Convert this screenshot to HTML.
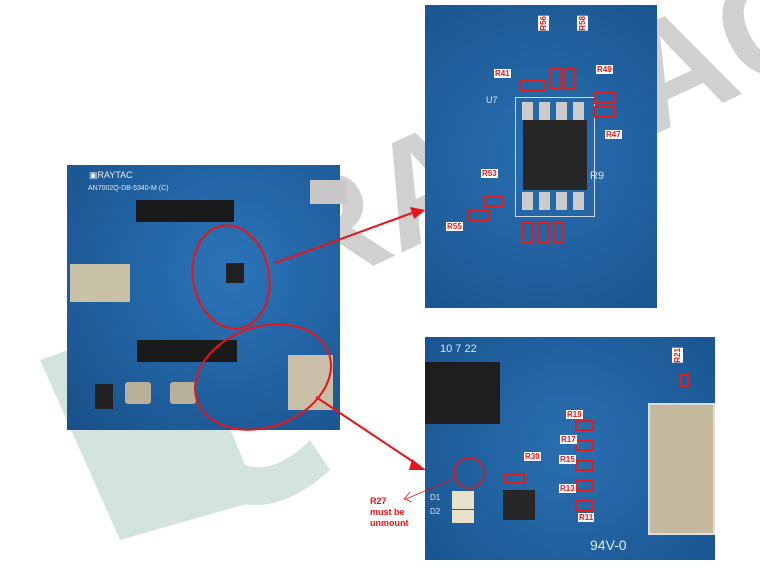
<!DOCTYPE html>
<html><head><style>
body{margin:0;width:760px;height:570px;background:#fff;position:relative;overflow:hidden;font-family:"Liberation Sans",sans-serif}
.a{position:absolute}
.lbl{position:absolute;background:#fff;color:#e21c1c;font-size:8px;font-weight:bold;padding:0 1px;line-height:9px}
.rb{position:absolute;border:2px solid #e21c1c;box-sizing:border-box}
.w{position:absolute;color:#d8e6f0;font-size:9px}
</style></head><body>
<!-- watermark -->
<svg class="a" style="left:0;top:0" width="760" height="570">
<path d="M40 360 L180 310 L260 500 L120 540 Z" fill="#d3e3dd"/>
<path d="M150 420 Q230 560 330 470 L310 440 Q240 510 190 400 Z" fill="#d3e3dd"/>
<g transform="translate(300,300) rotate(-25)"><text x="0" y="0" font-size="150" font-weight="bold" fill="#d0d0d0" font-family="Liberation Sans">RAYTAC</text></g>
</svg>
<!-- left board -->
<div class="a" style="left:67px;top:165px;width:273px;height:265px;background:radial-gradient(circle at 60% 40%,#2b74b8,#18508a)"></div>
<div class="a" style="left:89px;top:170px;color:#e8eef5;font-size:9px">▣RAYTAC</div>
<div class="a" style="left:88px;top:185px;color:#dfe8f2;font-size:7px">AN7002Q-DB-5340-M (C)</div>
<div class="a" style="left:136px;top:200px;width:98px;height:22px;background:#1a1a1a"></div>
<div class="a" style="left:137px;top:340px;width:100px;height:22px;background:#1a1a1a"></div>
<div class="a" style="left:70px;top:264px;width:60px;height:38px;background:#c9c0a8"></div>
<div class="a" style="left:288px;top:355px;width:45px;height:55px;background:#c9bfa8"></div>
<div class="a" style="left:310px;top:180px;width:36px;height:24px;background:#c8c8c8"></div>
<div class="a" style="left:226px;top:263px;width:18px;height:20px;background:#222"></div>
<div class="a" style="left:125px;top:382px;width:26px;height:22px;background:#b9b09a;border-radius:3px"></div>
<div class="a" style="left:170px;top:382px;width:26px;height:22px;background:#b9b09a;border-radius:3px"></div>
<div class="a" style="left:95px;top:384px;width:18px;height:25px;background:#222"></div>
<!-- top right photo -->
<div class="a" style="left:425px;top:5px;width:232px;height:303px;background:radial-gradient(circle at 50% 50%,#2a6fb0,#1a5592)"></div>
<div class="a" style="left:515px;top:97px;width:78px;height:118px;border:1px solid #cfd8e0"></div>
<div class="a" style="left:523px;top:120px;width:64px;height:70px;background:#262626"></div>
<div class="a" style="left:522px;top:102px;width:66px;height:18px;background:repeating-linear-gradient(90deg,#ccc 0 11px,transparent 11px 17px)"></div>
<div class="a" style="left:522px;top:192px;width:66px;height:18px;background:repeating-linear-gradient(90deg,#ccc 0 11px,transparent 11px 17px)"></div>
<div class="rb" style="left:520px;top:79px;width:26px;height:12px"></div>
<div class="rb" style="left:550px;top:68px;width:11px;height:22px"></div>
<div class="rb" style="left:564px;top:68px;width:11px;height:22px"></div>
<div class="rb" style="left:594px;top:92px;width:22px;height:12px"></div>
<div class="rb" style="left:594px;top:106px;width:22px;height:12px"></div>
<div class="rb" style="left:483px;top:196px;width:20px;height:11px"></div>
<div class="rb" style="left:468px;top:209px;width:22px;height:12px"></div>
<div class="rb" style="left:522px;top:222px;width:12px;height:22px"></div>
<div class="rb" style="left:538px;top:222px;width:12px;height:22px"></div>
<div class="rb" style="left:553px;top:222px;width:10px;height:22px"></div>
<div class="lbl" style="left:494px;top:69px">R41</div>
<div class="lbl" style="left:596px;top:65px">R49</div>
<div class="lbl" style="left:605px;top:130px">R47</div>
<div class="lbl" style="left:481px;top:169px">R53</div>
<div class="lbl" style="left:446px;top:222px">R55</div>
<div class="lbl" style="left:538px;top:16px;writing-mode:vertical-rl;transform:rotate(180deg)">R56</div>
<div class="lbl" style="left:577px;top:16px;writing-mode:vertical-rl;transform:rotate(180deg)">R58</div>
<div class="w" style="left:590px;top:170px;font-size:11px">R9</div>
<div class="w" style="left:486px;top:95px;font-size:9px">U7</div>
<!-- bottom right photo -->
<div class="a" style="left:425px;top:337px;width:290px;height:223px;background:radial-gradient(circle at 50% 50%,#2a6fb0,#1a5592)"></div>
<div class="a" style="left:425px;top:362px;width:75px;height:62px;background:#1e1e1e"></div>
<div class="w" style="left:440px;top:343px;font-size:11px">10 7 22</div>
<div class="a" style="left:648px;top:403px;width:67px;height:132px;background:#c4b89d;border:2px solid #ddd;box-sizing:border-box"></div>
<div class="a" style="left:503px;top:490px;width:32px;height:30px;background:#262626"></div>
<div class="a" style="left:452px;top:491px;width:22px;height:18px;background:#e9e0c8"></div>
<div class="a" style="left:452px;top:510px;width:22px;height:13px;background:#e9e0c8"></div>
<div class="w" style="left:590px;top:537px;font-size:14px;color:#e0e8ee">94V-0</div>
<div class="w" style="left:430px;top:493px;font-size:8px">D1</div>
<div class="w" style="left:430px;top:507px;font-size:8px">D2</div>
<div class="rb" style="left:680px;top:374px;width:9px;height:13px"></div>
<div class="rb" style="left:575px;top:420px;width:19px;height:11px"></div>
<div class="rb" style="left:575px;top:440px;width:19px;height:11px"></div>
<div class="rb" style="left:575px;top:460px;width:19px;height:11px"></div>
<div class="rb" style="left:575px;top:480px;width:19px;height:11px"></div>
<div class="rb" style="left:575px;top:500px;width:19px;height:11px"></div>
<div class="rb" style="left:504px;top:473px;width:21px;height:11px"></div>
<div class="lbl" style="left:566px;top:410px">R19</div>
<div class="lbl" style="left:560px;top:435px">R17</div>
<div class="lbl" style="left:559px;top:455px">R15</div>
<div class="lbl" style="left:559px;top:484px">R13</div>
<div class="lbl" style="left:578px;top:513px">R11</div>
<div class="lbl" style="left:524px;top:452px">R30</div>
<div class="lbl" style="left:672px;top:348px;writing-mode:vertical-rl;transform:rotate(180deg)">R21</div>
<!-- annotations -->
<svg class="a" style="left:0;top:0" width="760" height="570">
<g fill="none" stroke="#e8141a" stroke-width="2">
<ellipse cx="231" cy="277" rx="38" ry="52" transform="rotate(-10 231 277)"/>
<ellipse cx="263" cy="377" rx="70" ry="50" transform="rotate(-20 263 377)"/>
<circle cx="469" cy="473" r="15" stroke-width="1.5"/>
<line x1="275" y1="263" x2="412" y2="213"/>
<line x1="316" y1="397" x2="418" y2="465"/>
</g>
<polygon points="425,210 410,207 414,219" fill="#e8141a"/>
<polygon points="426,470 412,459 409,470" fill="#e8141a"/>
<line x1="455" y1="478" x2="406" y2="499" stroke="#e8141a" stroke-width="0.8"/>
<polyline points="410,492 404,499 412,502" fill="none" stroke="#e8141a" stroke-width="0.8"/>
</svg>
<div class="a" style="left:370px;top:496px;color:#e8141a;font-size:9px;font-weight:bold;line-height:11px">R27<br>must be<br>unmount</div>
</body></html>
